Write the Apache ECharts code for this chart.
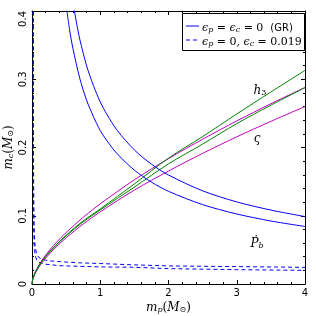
<!DOCTYPE html>
<html>
<head>
<meta charset="utf-8">
<script src="https://cdn.jsdelivr.net/npm/echarts@6/dist/echarts.min.js"></script>
<style>
html,body{margin:0;padding:0;background:#fff;}
#chart{width:316px;height:316px;}
</style>
</head>
<body>
<div id="chart"></div>
<script>
// ---- data ----
// Pbdot (GR), two bounds
const pbGRUpperMp = [0.6, 0.62, 0.65, 0.7, 0.8, 0.9, 1.0, 1.1, 1.25, 1.5, 1.75, 2.0, 2.5, 3.0, 3.5, 4.0];
const pbGRUpperMc = [0.413, 0.401, 0.3838, 0.3587, 0.3197, 0.2908, 0.2668, 0.248, 0.2249, 0.1964, 0.1756, 0.1597, 0.1365, 0.1203, 0.1083, 0.0988];
const pbGRLowerMp = [0.5, 0.55, 0.6, 0.7, 0.8, 0.9, 1.0, 1.1, 1.25, 1.5, 1.75, 2.0, 2.5, 3.0, 3.5, 4.0];
const pbGRLowerMc = [0.409, 0.3731, 0.345, 0.3014, 0.2693, 0.2453, 0.2248, 0.2096, 0.1906, 0.1668, 0.1493, 0.1358, 0.1163, 0.1026, 0.0923, 0.0843];
// Pbdot (eps_c = 0.019), two bounds
const pbModUpperMp = [0.02, 0.02, 0.022, 0.026, 0.032, 0.045, 0.07, 0.1, 0.15, 0.25, 0.41, 0.7, 1.0, 1.5, 2.0, 3.0, 4.0];
const pbModUpperMc = [0.42, 0.3, 0.2, 0.12, 0.08, 0.055, 0.043, 0.039, 0.036, 0.034, 0.0327, 0.031, 0.030, 0.028, 0.0265, 0.0255, 0.0244];
const pbModLowerMp = [0.018, 0.018, 0.02, 0.024, 0.03, 0.045, 0.07, 0.1, 0.2, 0.41, 1.0, 1.5, 2.0, 3.0, 4.0];
const pbModLowerMc = [0.42, 0.3, 0.2, 0.1, 0.06, 0.042, 0.035, 0.032, 0.029, 0.0268, 0.025, 0.0245, 0.0225, 0.021, 0.020];
// h3 and varsigma curves share one mp grid
const shapMp = [0, 0.01, 0.02, 0.05, 0.1, 0.2, 0.35, 0.5, 0.75, 1.0, 1.5, 2.0, 2.5, 3.0, 3.5, 4.0];
const h3UpperMc = [0, 0.0068, 0.0101, 0.017, 0.0263, 0.0404, 0.057, 0.0715, 0.0925, 0.110, 0.1466, 0.1844, 0.216, 0.2491, 0.2813, 0.313];
const h3LowerMc = [0, 0.0068, 0.0100, 0.0168, 0.026, 0.040, 0.0565, 0.0705, 0.091, 0.1085, 0.142, 0.176, 0.205, 0.235, 0.262, 0.2877];
const sigUpperMc = [0, 0.0072, 0.0106, 0.0181, 0.0277, 0.0424, 0.0602, 0.0754, 0.0977, 0.1174, 0.1527, 0.1837, 0.2121, 0.2389, 0.2641, 0.288];
const sigLowerMc = [0, 0.0063, 0.0096, 0.0161, 0.0247, 0.038, 0.054, 0.0677, 0.0879, 0.1057, 0.1376, 0.1655, 0.1914, 0.2156, 0.2383, 0.26];
// ticks
const xTicks = [0, 1, 2, 3, 4];
const yTicks = [0, 0.1, 0.2, 0.3, 0.4];

const zip = (a, b) => a.map((v, i) => [v, b[i]]);

const BLUE = '#0000ff', GREEN = '#008000', MAG = '#bf00bf';
const SERIF = '"DejaVu Serif", serif';
const SANS = '"DejaVu Sans", sans-serif';

function lineSeries(data, color, dashed, smooth) {
  return {
    type: 'line', data: data, showSymbol: false, symbol: 'none', silent: true,
    smooth: smooth ? 0.3 : false, clip: true,
    lineStyle: { color: color, width: 1, type: dashed ? [4, 3] : 'solid' },
    xAxisIndex: 0, yAxisIndex: 0, animation: false
  };
}

function mathRich(size) {
  const sub = Math.round(size * 0.7);
  return {
    i: { fontFamily: SERIF, fontStyle: 'italic', fontSize: size, color: '#000', verticalAlign: 'bottom', lineHeight: size + 4 },
    n: { fontFamily: SERIF, fontSize: size, color: '#000', verticalAlign: 'bottom', lineHeight: size + 4 },
    s: { fontFamily: SERIF, fontStyle: 'italic', fontSize: sub, color: '#000', verticalAlign: 'bottom', lineHeight: sub + 3 },
    o: { fontFamily: SERIF, fontSize: sub, color: '#000', verticalAlign: 'bottom', lineHeight: sub + 3 },
    g: { fontFamily: SANS, fontSize: size - 1, color: '#000', verticalAlign: 'bottom', lineHeight: size + 4 }
  };
}

const axisCommon = {
  type: 'value', min: 0,
  axisLine: { show: true, onZero: false, lineStyle: { color: '#000', width: 1 } },
  axisTick: { show: true, inside: true, length: 4, lineStyle: { color: '#000' } },
  minorTick: { show: true, splitNumber: 5, length: 2, lineStyle: { color: '#000' } },
  splitLine: { show: false }, minorSplitLine: { show: false }
};

const chart = echarts.init(document.getElementById('chart'), null, { renderer: 'canvas' });
chart.setOption({
  animation: false,
  backgroundColor: '#fff',
  grid: { left: 32, right: 11, top: 11, bottom: 32, containLabel: false, outerBoundsMode: 'none' },
  xAxis: [
    Object.assign({}, axisCommon, {
      position: 'bottom', max: 4, interval: 1,
      axisLabel: { show: true, fontFamily: SANS, fontSize: 10, color: '#000', margin: 4,
        formatter: v => xTicks.includes(v) ? String(v) : '' },
      name: '{i|m}{s|p}{n|(}{i|M}{o|⊙}{n|)}', nameLocation: 'middle', nameGap: 14, nameMoveOverlap: false,
      nameTextStyle: { rich: mathRich(12) }
    }),
    Object.assign({}, axisCommon, {
      position: 'top', max: 4, interval: 1, axisLabel: { show: false }
    })
  ],
  yAxis: [
    Object.assign({}, axisCommon, {
      position: 'left', max: 0.4, interval: 0.1,
      axisLabel: { show: true, fontFamily: SANS, fontSize: 10, color: '#000', margin: 4, rotate: 90,
        align: 'center', verticalAlign: 'bottom', alignMaxLabel: 'right',
        formatter: v => { const t = yTicks.find(k => Math.abs(k - v) < 1e-9); return t === undefined ? '' : (t === 0 ? '0' : t.toFixed(1)); } },
      name: '{i|m}{s|c}{n|(}{i|M}{o|⊙}{n|)}', nameLocation: 'middle', nameGap: 17, nameRotate: 90, nameMoveOverlap: false,
      nameTextStyle: { rich: mathRich(12) }
    }),
    Object.assign({}, axisCommon, {
      position: 'right', max: 0.4, interval: 0.1, axisLabel: { show: false }
    })
  ],
  series: [
    lineSeries(zip(pbModUpperMp, pbModUpperMc), BLUE, true, false),
    lineSeries(zip(pbModLowerMp, pbModLowerMc), BLUE, true, false),
    lineSeries(zip(shapMp, sigUpperMc), MAG, false, true),
    lineSeries(zip(shapMp, sigLowerMc), MAG, false, true),
    lineSeries(zip(shapMp, h3UpperMc), GREEN, false, true),
    lineSeries(zip(shapMp, h3LowerMc), GREEN, false, true),
    lineSeries(zip(pbGRUpperMp, pbGRUpperMc), BLUE, false, true),
    lineSeries(zip(pbGRLowerMp, pbGRLowerMc), BLUE, false, true)
  ],
  graphic: [
    { type: 'rect', shape: { x: 182.5, y: 13.5, width: 122, height: 37 }, style: { fill: '#fff', stroke: '#000', lineWidth: 1 }, z: 100 },
    { type: 'line', shape: { x1: 186, y1: 26, x2: 199, y2: 26 }, style: { stroke: BLUE, lineWidth: 1 }, z: 101 },
    { type: 'line', shape: { x1: 186, y1: 40, x2: 199, y2: 40 }, style: { stroke: BLUE, lineWidth: 1, lineDash: [4, 3] }, z: 101 },
    { type: 'text', x: 202, y: 26, z: 101, style: { text: '{i|ϵ}{s|p}{n| = }{i|ϵ}{s|c}{n| = 0  }{g|(GR)}', verticalAlign: 'middle', rich: mathRich(11) } },
    { type: 'text', x: 202, y: 40, z: 101, style: { text: '{i|ϵ}{s|p}{n| = 0, }{i|ϵ}{s|c}{n| = 0.019}', verticalAlign: 'middle', rich: mathRich(11) } },
    { type: 'text', x: 260, y: 89, z: 101, style: { text: '{i|h}{o|3}', align: 'center', verticalAlign: 'middle', rich: mathRich(12) } },
    { type: 'text', x: 257, y: 137, z: 101, style: { text: '{i|ς}', align: 'center', verticalAlign: 'middle', rich: mathRich(12) } },
    { type: 'text', x: 257, y: 242, z: 101, style: { text: '{i|Ṗ}{s|b}', align: 'center', verticalAlign: 'middle', rich: mathRich(12) } }
  ]
});
</script>
</body>
</html>
